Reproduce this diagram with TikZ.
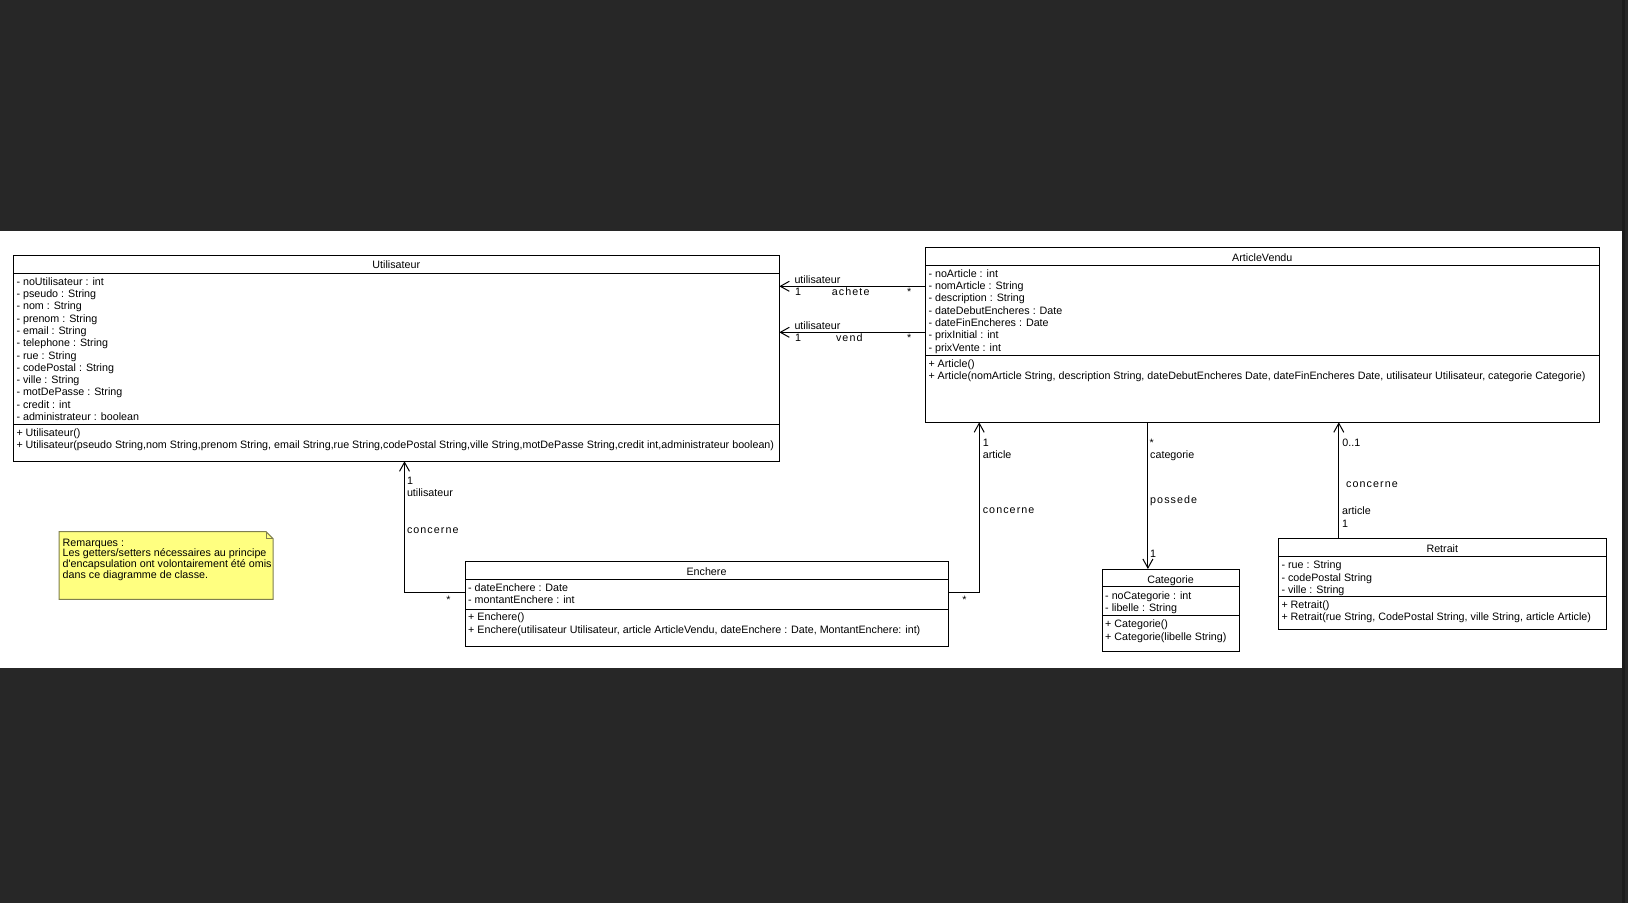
\documentclass[tikz,border=0pt]{standalone}
\usepackage{fontspec}
\setmainfont{Liberation Sans}
\newfontfamily\assocfont[LetterSpace=10]{Liberation Sans}
\usetikzlibrary{arrows.meta,positioning,calc}
\definecolor{bgdark}{HTML}{272727}
\definecolor{bgedge}{HTML}{1C1C1C}
\definecolor{notefill}{HTML}{FFFF80}
\definecolor{noteline}{HTML}{7F7F50}
\newcommand{\umlsize}{\fontsize{10.72}{12.3}\selectfont}
\tikzset{
classbox/.style={draw, line width=1pt, fill=white, anchor=north west, inner sep=0pt, outer sep=0pt},
classline/.style={line width=1pt},
classname/.style={inner sep=0pt, text height=7.7pt, text depth=0pt},
members/.style={anchor=north west, align=left, inner sep=0pt},
assoc/.style={->, >={Straight Barb[length=9pt,width=10pt]}, line width=1pt},
role/.style={anchor=base west, inner sep=0pt},
assocname/.style={inner sep=0pt, font=\assocfont\umlsize},
notebox/.style={fill=notefill, draw=noteline, line width=1pt},
}
\tikzstyle{every node}=[font=\umlsize]

\begin{document}
\begin{tikzpicture}[x=1pt, y=-1pt]
        % screen and sheet
        \fill[bgdark] (0,0) rectangle (1628,903);
        \fill[white] (0,231) rectangle (1622,668);
        \fill[bgedge] (1622,0) rectangle (1625,903);
        \useasboundingbox (0,0) rectangle (1628,903);

        % Utilisateur
        \node[classbox, minimum width=766pt, minimum height=206pt] (util) at (13.3,255.3) {};
        \node[classname] (utilname) at ($(util.north)+(0,9.8)$) {Utilisateur};
        \draw[classline] ($(util.north west)+(0,18)$) -- ($(util.north east)+(0,18)$);
        \draw[classline] ($(util.north west)+(0,169)$) -- ($(util.north east)+(0,169)$);
        \node[members] (utilattr) at ($(util.north west)+(3,22)$) {- noUtilisateur : int\\- pseudo : String\\- nom : String\\- prenom : String\\- email : String\\- telephone : String\\- rue : String\\- codePostal : String\\- ville : String\\- motDePasse : String\\- credit : int\\- administrateur : boolean};
        \node[members] (utilop) at ($(util.north west)+(3,173)$) {+ Utilisateur()\\+ Utilisateur(pseudo String,nom String,prenom String, email String,rue String,codePostal String,ville String,motDePasse String,credit int,administrateur boolean)};

        % ArticleVendu
        \node[classbox, minimum width=674pt, minimum height=175pt] (art) at (925.3,247.3) {};
        \node[classname] (artname) at ($(art.north)+(0,10)$) {ArticleVendu};
        \draw[classline] ($(art.north west)+(0,17.7)$) -- ($(art.north east)+(0,17.7)$);
        \draw[classline] ($(art.north west)+(0,108)$) -- ($(art.north east)+(0,108)$);
        \node[members] (artattr) at ($(art.north west)+(3,22)$) {- noArticle : int\\- nomArticle : String\\- description : String\\- dateDebutEncheres : Date\\- dateFinEncheres : Date\\- prixInitial : int\\- prixVente : int};
        \node[members] (artop) at ($(art.north west)+(3,112)$) {+ Article()\\+ Article(nomArticle String, description String, dateDebutEncheres Date, dateFinEncheres Date, utilisateur Utilisateur, categorie Categorie)};

        % Enchere
        \node[classbox, minimum width=483pt, minimum height=85pt] (ench) at (465,561.5) {};
        \node[classname] (enchname) at ($(ench.north)+(0,10.3)$) {Enchere};
        \draw[classline] ($(ench.north west)+(0,17.8)$) -- ($(ench.north east)+(0,17.8)$);
        \draw[classline] ($(ench.north west)+(0,47.5)$) -- ($(ench.north east)+(0,47.5)$);
        \node[members] (enchattr) at ($(ench.north west)+(3,21.8)$) {- dateEnchere : Date\\- montantEnchere : int};
        \node[members] (enchop) at ($(ench.north west)+(3,51.5)$) {+ Enchere()\\+ Enchere(utilisateur Utilisateur, article ArticleVendu, dateEnchere : Date, MontantEnchere: int)};

        % Categorie
        \node[classbox, minimum width=137pt, minimum height=82.7pt] (cat) at (1102,569) {};
        \node[classname] (catname) at ($(cat.north)+(0,10.3)$) {Categorie};
        \draw[classline] ($(cat.north west)+(0,17.3)$) -- ($(cat.north east)+(0,17.3)$);
        \draw[classline] ($(cat.north west)+(0,46.7)$) -- ($(cat.north east)+(0,46.7)$);
        \node[members] (catattr) at ($(cat.north west)+(3,22.6)$) {- noCategorie : int\\- libelle : String};
        \node[members] (catop) at ($(cat.north west)+(3,50.8)$) {+ Categorie()\\+ Categorie(libelle String)};

        % Retrait
        \node[classbox, minimum width=328pt, minimum height=91.3pt] (ret) at (1278.3,538) {};
        \node[classname] (retname) at ($(ret.north)+(0,10.3)$) {Retrait};
        \draw[classline] ($(ret.north west)+(0,18)$) -- ($(ret.north east)+(0,18)$);
        \draw[classline] ($(ret.north west)+(0,58.3)$) -- ($(ret.north east)+(0,58.3)$);
        \node[members] (retattr) at ($(ret.north west)+(3,22.8)$) {- rue : String\\- codePostal String\\- ville : String};
        \node[members] (retop) at ($(ret.north west)+(3,62.3)$) {+ Retrait()\\+ Retrait(rue String, CodePostal String, ville String, article Article)};

        % note
        \node[anchor=north west, inner sep=0pt, minimum width=213.7pt, minimum height=67.3pt] (note) at (59,531.7) {};
        \filldraw[notebox] (note.north west) -- ($(note.north east)+(-7,0)$) -- ($(note.north east)+(0,7)$)
            -- (note.south east) -- (note.south west) -- cycle;
        \draw[noteline, line width=1pt] ($(note.north east)+(-7,0)$) |- ($(note.north east)+(0,7)$);
        \node[members, font=\fontsize{10.72}{10.8}\selectfont] (notetext) at ($(note.north west)+(3.5,6.8)$)
            {Remarques :\\Les getters/setters nécessaires au principe\\d\textquotesingle encapsulation ont volontairement été omis\\dans ce diagramme de classe.};

        % associations
        \coordinate (acheteY) at (0,286.3);
        \coordinate (vendY) at (0,332.3);
        \coordinate (encUtil) at (404.5,592.3);
        \coordinate (encArt) at (979.2,592.3);
        \coordinate (catX) at (1147.9,0);
        \coordinate (retX) at (1338.8,0);

        \draw[assoc] (art.west |- acheteY) -- (util.east |- acheteY);
        \draw[assoc] (art.west |- vendY) -- (util.east |- vendY);
        \draw[assoc] (ench.west |- encUtil) -| (util.south -| encUtil);
        \draw[assoc] (ench.east |- encArt) -| (art.south -| encArt);
        \draw[assoc] (art.south -| catX) -- (cat.north -| catX);
        \draw[assoc] (ret.north -| retX) -- (art.south -| retX);

        % achete / vend
        \node[role] (achR) at ($(util.east |- acheteY)+(15,-3.2)$) {utilisateur};
        \node[role] (achM) at ($(util.east |- acheteY)+(15.7,9.2)$) {1};
        \node[assocname, anchor=base] (achN) at ($(util.east |- acheteY)+(71.4,9.2)$) {achete};
        \node[role] (achS) at ($(art.west |- acheteY)+(-18.3,9.2)$) {*};
        \node[role] (venR) at ($(util.east |- vendY)+(15,-3.2)$) {utilisateur};
        \node[role] (venM) at ($(util.east |- vendY)+(15.7,9.2)$) {1};
        \node[assocname, anchor=base] (venN) at ($(util.east |- vendY)+(70,9.2)$) {vend};
        \node[role] (venS) at ($(art.west |- vendY)+(-18.3,9.2)$) {*};

        % Enchere -> Utilisateur
        \node[role] (euM) at ($(util.south -| encUtil)+(2.3,22.8)$) {1};
        \node[role] (euR) at ($(util.south -| encUtil)+(2.3,35.1)$) {utilisateur};
        \node[assocname, anchor=base west] (euN) at ($(util.south -| encUtil)+(2.3,72.5)$) {concerne};
        \node[role, anchor=base] (euS) at ($(ench.west |- encUtil)+(-16.5,11.4)$) {*};

        % Enchere -> ArticleVendu
        \node[role] (eaM) at ($(art.south -| encArt)+(3.4,23.8)$) {1};
        \node[role] (eaR) at ($(art.south -| encArt)+(3.4,35.8)$) {article};
        \node[assocname, anchor=base west] (eaN) at ($(art.south -| encArt)+(3.4,91.5)$) {concerne};
        \node[role, anchor=base] (eaS) at ($(ench.east |- encArt)+(16.4,11.4)$) {*};

        % ArticleVendu -> Categorie
        \node[role] (acS) at ($(art.south -| catX)+(1.6,23.7)$) {*};
        \node[role] (acR) at ($(art.south -| catX)+(2.1,35.8)$) {categorie};
        \node[assocname, anchor=base west] (acN) at ($(art.south -| catX)+(2.1,81.5)$) {possede};
        \node[role] (acM) at ($(cat.north -| catX)+(2.1,-11.9)$) {1};

        % Retrait -> ArticleVendu
        \node[role] (raM) at ($(art.south -| retX)+(3.4,23.8)$) {0..1};
        \node[assocname, anchor=base west] (raN) at ($(art.south -| retX)+(7.2,64.8)$) {concerne};
        \node[role] (raR) at ($(art.south -| retX)+(3.2,92.5)$) {article};
        \node[role] (raM2) at ($(art.south -| retX)+(3.2,104.8)$) {1};
\end{tikzpicture}
\end{document}
